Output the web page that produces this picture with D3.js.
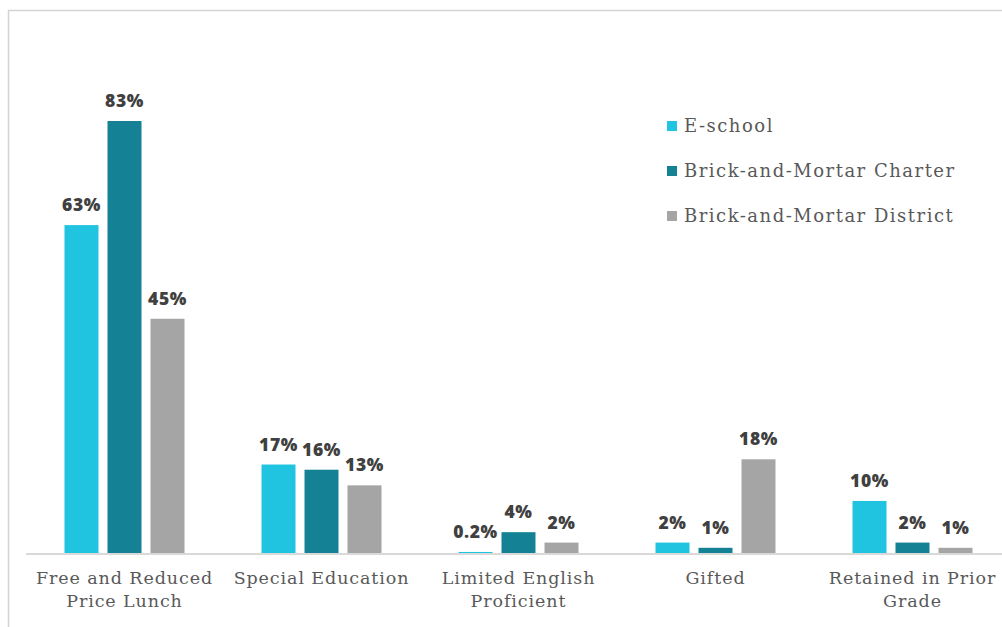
<!DOCTYPE html>
<html>
<head>
<meta charset="utf-8">
<script src="https://cdn.jsdelivr.net/npm/d3@7"></script>
<style>
  html, body { margin: 0; padding: 0; background: #fff; overflow: hidden; }
  svg { display: block; }
</style>
</head>
<body>
<svg id="chart" width="1002" height="627"></svg>
<script>
// Student population shares by school type
const categories = [
  ["Free and Reduced", "Price Lunch"],
  ["Special Education"],
  ["Limited English", "Proficient"],
  ["Gifted"],
  ["Retained in Prior", "Grade"]
];
const seriesNames = ["E-school", "Brick-and-Mortar Charter", "Brick-and-Mortar District"];
const eschool  = [63, 17, 0.2, 2, 10];
const charter  = [83, 16, 4, 1, 2];
const district = [45, 13, 2, 18, 1];
const valueLabels = [
  ["63%", "17%", "0.2%", "2%", "10%"],
  ["83%", "16%", "4%", "1%", "2%"],
  ["45%", "13%", "2%", "18%", "1%"]
];
const colors = ["#20c4e0", "#148294", "#a5a5a5"];

const seriesValues = [eschool, charter, district];
const svg = d3.select("#chart");

// outer frame
svg.append("path")
  .attr("d", "M8.5,627 V10.5 H1002")
  .attr("fill", "none").attr("stroke", "#d4d4d4").attr("stroke-width", 1.5);

const plotLeft = 26, plotRight = 1011, baseline = 553;
const x0 = d3.scaleBand().domain(d3.range(categories.length))
  .range([plotLeft, plotRight]);
const y = d3.scaleLinear().domain([0, 83]).range([baseline, 121]);

const barW = 34, gap = 9;
const x1 = d3.scaleOrdinal().domain([0, 1, 2])
  .range([-(barW * 1.5 + gap), -barW / 2, barW / 2 + gap]);

const groups = svg.append("g").selectAll("g")
  .data(categories).join("g")
  .attr("transform", (d, i) => `translate(${x0(i) + x0.bandwidth() / 2},0)`);

seriesValues.forEach((vals, s) => {
  groups.append("rect")
    .attr("x", (d, i) => x1(s))
    .attr("width", barW)
    .attr("y", (d, i) => y(vals[i]))
    .attr("height", (d, i) => baseline - y(vals[i]))
    .attr("fill", colors[s]);
  groups.append("text")
    .attr("x", x1(s) + barW / 2)
    .attr("y", (d, i) => y(vals[i]) - 14)
    .attr("text-anchor", "middle")
    .attr("font-family", "'Open Sans', sans-serif")
    .attr("font-weight", 800)
    .attr("font-size", 17.5)
    .attr("letter-spacing", 0.6)
    .attr("fill", "#404040")
    .text((d, i) => valueLabels[s][i]);
});

// category axis
svg.append("line")
  .attr("x1", plotLeft).attr("x2", 1002)
  .attr("y1", baseline + 1).attr("y2", baseline + 1)
  .attr("stroke", "#d9d9d9").attr("stroke-width", 2);

const catText = groups.append("text")
  .attr("text-anchor", "middle")
  .attr("font-family", "'DejaVu Serif', serif")
  .attr("font-size", 17.5)
  .attr("letter-spacing", 0.9)
  .attr("fill", "#595959");
catText.selectAll("tspan")
  .data(d => d).join("tspan")
  .attr("x", 0)
  .attr("y", (d, i) => 584 + i * 23)
  .text(d => d);

// legend
const legend = svg.append("g").selectAll("g")
  .data(seriesNames).join("g")
  .attr("transform", (d, i) => `translate(667,${121 + i * 45})`);
legend.append("rect")
  .attr("width", 10).attr("height", 10)
  .attr("fill", (d, i) => colors[i]);
legend.append("text")
  .attr("x", 17).attr("y", 11)
  .attr("font-family", "'DejaVu Serif', serif")
  .attr("font-size", 18)
  .attr("letter-spacing", 1.5)
  .attr("fill", "#595959")
  .text(d => d);
</script>
</body>
</html>
